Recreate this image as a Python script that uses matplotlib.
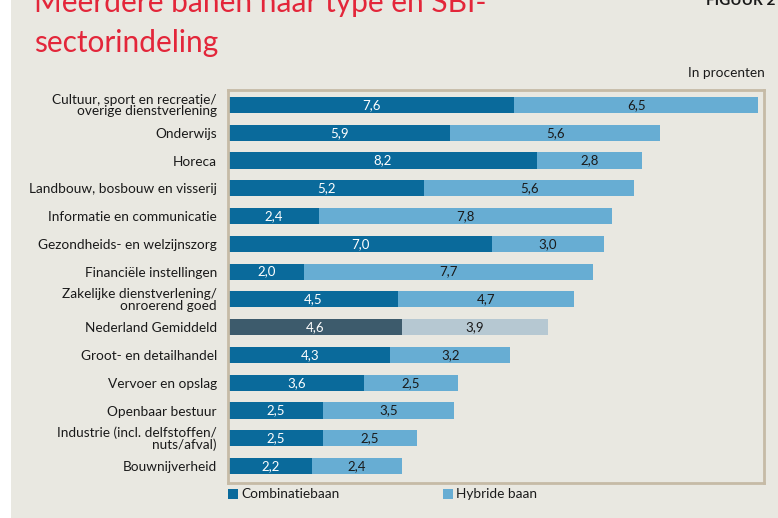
import matplotlib
matplotlib.use("Agg")
import matplotlib.pyplot as plt
from matplotlib.patches import Rectangle

plt.rcParams['font.family'] = ['Lato', 'DejaVu Sans']

categories = ["Cultuur, sport en recreatie/\noverige dienstverlening", "Onderwijs", "Horeca",
              "Landbouw, bosbouw en visserij", "Informatie en communicatie",
              "Gezondheids- en welzijnszorg", "Financiële instellingen",
              "Zakelijke dienstverlening/\nonroerend goed", "Nederland Gemiddeld",
              "Groot- en detailhandel", "Vervoer en opslag", "Openbaar bestuur",
              "Industrie (incl. delfstoffen/\nnuts/afval)", "Bouwnijverheid"]
combinatie = [7.6, 5.9, 8.2, 5.2, 2.4, 7.0, 2.0, 4.5, 4.6, 4.3, 3.6, 2.5, 2.5, 2.2]
hybride = [6.5, 5.6, 2.8, 5.6, 7.8, 3.0, 7.7, 4.7, 3.9, 3.2, 2.5, 3.5, 2.5, 2.4]
highlight = "Nederland Gemiddeld"

BG = "#e9e8e1"
DARK = "#0a6a9b"
LIGHT = "#67add3"
DARK_H = "#3d5b6c"
LIGHT_H = "#b6c8d2"
FRAME = "#c6bba6"
RED = "#e3263a"
TXT = "#1a1a1a"

fig = plt.figure(figsize=(7.78, 5.18), dpi=100)
fig.patch.set_facecolor(BG)
fig.patches.append(Rectangle((0, 0), 11/778, 1, transform=fig.transFigure,
                             facecolor="white", edgecolor="none", zorder=0))

ax = fig.add_axes([228/778, 1-483/518, 536/778, 393/518])
ax.set_facecolor(BG)
n = len(categories)
ys = list(range(n))
for i, (c, h, cat) in enumerate(zip(combinatie, hybride, categories)):
    hl = cat == highlight
    dc = DARK_H if hl else DARK
    lc = LIGHT_H if hl else LIGHT
    ax.barh(i, c, height=0.58, left=0.03, color=dc, edgecolor="none")
    ax.barh(i, h, height=0.58, left=0.03 + c, color=lc, edgecolor="none")
    ax.text(0.03 + c/2, i, f"{c:.1f}".replace(".", ","), ha="center", va="center",
            color="white", fontsize=9.5)
    ax.text(0.03 + c + h/2, i, f"{h:.1f}".replace(".", ","), ha="center", va="center",
            color=TXT, fontsize=9.5)

ax.set_xlim(0, 14.29)
ax.set_ylim(n - 1 + 0.61, -0.54)
ax.set_xticks([])
ax.set_yticks(ys)
ax.set_yticklabels(categories, fontsize=9.8, color=TXT, linespacing=0.95)
ax.tick_params(axis="y", length=0, pad=8)
for s in ax.spines.values():
    s.set_color(FRAME)
    s.set_linewidth(2)

fig.text(34/778, 1-12/518, "Meerdere banen naar type en SBI-", color=RED, fontsize=21.5,
         ha="left", va="baseline")
fig.text(34/778, 1-52/518, "sectorindeling", color=RED, fontsize=21.5,
         ha="left", va="baseline")
fig.text(776/778, 1-5/518, "FIGUUR 2", color=TXT, fontsize=11, fontweight="bold",
         ha="right", va="baseline")
fig.text(765/778, 1-77/518, "In procenten", color=TXT, fontsize=9.8, ha="right",
         va="baseline")

# legend
fig.patches.append(Rectangle((228/778, 1-499/518), 10/778, 10/518, transform=fig.transFigure,
                             facecolor=DARK, edgecolor="none"))
fig.text(241/778, 1-494/518, "Combinatiebaan", color=TXT, fontsize=9.8, ha="left", va="center")
fig.patches.append(Rectangle((443/778, 1-499/518), 10/778, 10/518, transform=fig.transFigure,
                             facecolor=LIGHT, edgecolor="none"))
fig.text(456/778, 1-494/518, "Hybride baan", color=TXT, fontsize=9.8, ha="left", va="center")

fig.savefig("out.png", dpi=100, facecolor=BG)
